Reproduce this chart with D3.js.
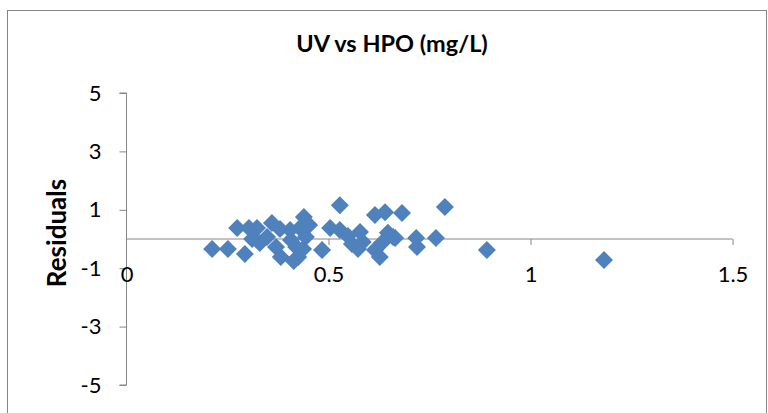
<!DOCTYPE html>
<html>
<head>
<meta charset="utf-8">
<script src="https://cdn.jsdelivr.net/npm/d3@7"></script>
<style>
  html, body { margin: 0; padding: 0; background: #fff; }
  svg { display: block; font-family: Lato, "Open Sans", sans-serif; }
</style>
</head>
<body>
<svg id="chart" width="768" height="413"></svg>
<script>
// Residuals of the UV vs HPO (mg/L) regression
const hpo = [0.212, 0.251, 0.274, 0.293, 0.303, 0.323, 0.311, 0.330, 0.360, 0.348,
             0.380, 0.370, 0.382, 0.407, 0.414, 0.437, 0.439, 0.405, 0.429, 0.444,
             0.420, 0.425, 0.484, 0.504, 0.528, 0.528, 0.548, 0.578, 0.585, 0.558,
             0.615, 0.640, 0.647, 0.632, 0.660, 0.615, 0.627, 0.682, 0.665, 0.717,
             0.719, 0.766, 0.788, 0.892, 1.182, 0.452, 0.573];
const residuals = [-0.34, -0.34, 0.38, -0.51, 0.38, 0.38, 0.00, -0.14, 0.55, 0.07,
                   0.34, -0.27, -0.62, -0.03, -0.75, -0.34, 0.75, 0.31, 0.38, 0.07,
                   -0.27, -0.62, -0.38, 0.38, 0.31, 1.16, 0.10, 0.24, -0.10, -0.17,
                   0.82, 0.92, 0.21, -0.14, 0.07, -0.38, -0.62, 0.89, 0.03, 0.03,
                   -0.27, 0.03, 1.10, -0.38, -0.72, 0.48, -0.34];
const xTicks = [0, 0.5, 1, 1.5];
const yTicks = [-5, -3, -1, 1, 3, 5];
const title = "UV vs HPO (mg/L)";
const yTitle = "Residuals";

const svg = d3.select("#chart");
const axisColor = "#868686";
const markColor = "#4F81BD";

// chart area frame
svg.append("rect")
  .attr("x", 7.5).attr("y", 10.5)
  .attr("width", 759).attr("height", 420)
  .attr("fill", "none").attr("stroke", axisColor).attr("stroke-width", 1);

const x = d3.scaleLinear().domain([0, 1.5]).range([126.5, 732.5]);
const y = d3.scaleLinear().domain([-5, 5]).range([385, 93]);

// vertical axis with outward ticks
svg.append("g")
  .attr("transform", `translate(${x(0)},0)`)
  .call(d3.axisLeft(y).tickValues(yTicks).tickSize(7).tickPadding(18).tickFormat(d => String(d)))
  .call(g => {
    g.select(".domain").attr("stroke", axisColor).attr("d", `M-7,${y(5)}H0V${y(-5)}H-7`);
    g.selectAll(".tick line").attr("stroke", axisColor);
    g.selectAll(".tick text").attr("fill", "#000").attr("font-size", 22)
      .attr("font-family", "Lato, sans-serif");
  });

// horizontal axis crossing at zero, labels sit lower in the plot
svg.append("g")
  .attr("transform", `translate(0,${y(0)})`)
  .call(d3.axisBottom(x).tickValues(xTicks).tickSize(6).tickPadding(21).tickFormat(d => String(d)))
  .call(g => {
    g.select(".domain").attr("stroke", axisColor).attr("d", `M${x(0)},0H${x(1.5)}`);
    g.selectAll(".tick line").attr("stroke", axisColor)
      .attr("display", d => d === 0 ? "none" : null);
    g.selectAll(".tick text").attr("fill", "#000").attr("font-size", 22)
      .attr("font-family", "Lato, sans-serif");
  });

// diamond markers
const h = 9;
const diamond = `M0,${-h}L${h},0L0,${h}L${-h},0Z`;
svg.append("g").selectAll("path")
  .data(hpo.map((v, i) => [v, residuals[i]]))
  .join("path")
  .attr("d", diamond)
  .attr("transform", d => `translate(${x(d[0])},${y(d[1])})`)
  .attr("fill", markColor);

// titles
svg.append("text")
  .attr("x", 392).attr("y", 52)
  .attr("text-anchor", "middle")
  .attr("font-size", 23.5).attr("font-weight", "bold")
  .text(title);

svg.append("text")
  .attr("transform", `translate(66,233) rotate(-90)`)
  .attr("text-anchor", "middle")
  .attr("font-size", 26).attr("font-weight", "bold")
  .text(yTitle);
</script>
</body>
</html>
